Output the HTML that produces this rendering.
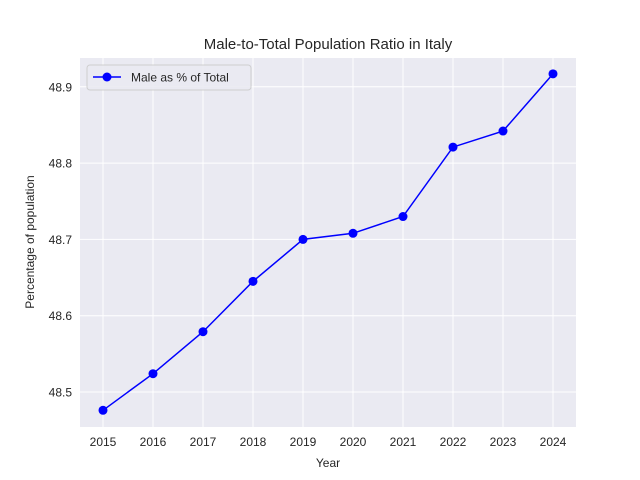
<!DOCTYPE html>
<html><head><meta charset="utf-8"><style>
body{margin:0;background:#fff;}
svg{display:block;font-family:"Liberation Sans","DejaVu Sans",sans-serif;}
</style></head><body>
<svg id="chart" width="640" height="480">
<rect x="80" y="58" width="496" height="369" fill="#eaeaf2"/>
<g id="grid"></g>
<g id="series"></g>
<g id="ticks"></g>
<text x="328" y="49" text-anchor="middle" font-size="15" fill="#262626">Male-to-Total Population Ratio in Italy</text>
<text x="328" y="467" text-anchor="middle" font-size="12" fill="#262626">Year</text>
<text transform="translate(34,242) rotate(-90)" text-anchor="middle" font-size="12" fill="#262626">Percentage of population</text>
<g>
<rect x="87" y="65" width="164" height="25" rx="3" fill="#eaeaf2" stroke="#cccccc" opacity="0.9"/>
<line x1="93" y1="77" x2="121" y2="77" stroke="#0000ff" stroke-width="1.5"/>
<circle cx="107" cy="77" r="4.5" fill="#0000ff"/>
<text x="131" y="81.5" font-size="12" fill="#262626">Male as % of Total</text>
</g>
</svg>
<script>
const years=[2015,2016,2017,2018,2019,2020,2021,2022,2023,2024];
const malePct=[48.476,48.524,48.579,48.645,48.700,48.708,48.730,48.821,48.842,48.917];
const yTicks=[48.5,48.6,48.7,48.8,48.9];
const yTickLabels=["48.5","48.6","48.7","48.8","48.9"];
const NS="http://www.w3.org/2000/svg";
function xS(v){return 103+(v-2015)*50;}
function yS(v){return 392-(v-48.5)*763;}
function mk(tag,attrs,parent){const e=document.createElementNS(NS,tag);for(const k in attrs)e.setAttribute(k,attrs[k]);parent.appendChild(e);return e;}
const grid=document.getElementById('grid'),ticks=document.getElementById('ticks'),series=document.getElementById('series');
years.forEach(y=>{
 const l=mk('line',{x1:xS(y),x2:xS(y),y1:58,y2:427,stroke:'#fff','stroke-width':1},grid);
 
 
 const t=mk('text',{x:xS(y),y:446,'text-anchor':'middle','font-size':12,fill:'#262626'},ticks);
 t.textContent=y;
 
 
});
yTicks.forEach((v,i)=>{
 const l=mk('line',{x1:80,x2:576,y1:yS(v),y2:yS(v),stroke:'#fff','stroke-width':1},grid);
 
 
 const t=mk('text',{x:72,y:yS(v)+4.5,'text-anchor':'end','font-size':12,fill:'#262626'},ticks);
 t.textContent=yTickLabels[i];
 
 
});
const pts=years.map((y,i)=>xS(y)+','+yS(malePct[i])).join(' ');
const pl=mk('polyline',{points:pts,fill:'none',stroke:'#0000ff','stroke-width':1.5},series);


years.forEach((y,i)=>{
 const c=mk('circle',{cx:xS(y),cy:yS(malePct[i]),r:4.5,fill:'#0000ff'},series);
 
 
});
</script>
</body></html>
